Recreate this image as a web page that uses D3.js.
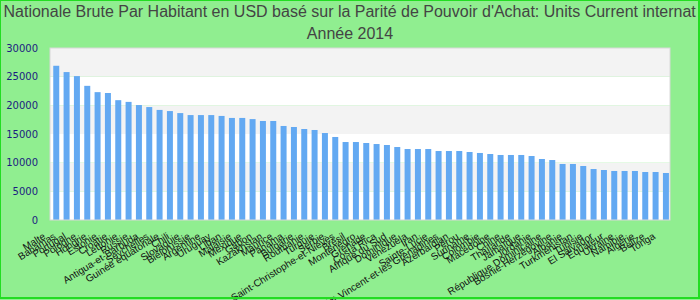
<!DOCTYPE html>
<html>
<head>
<meta charset="utf-8">
<script src="https://cdn.jsdelivr.net/npm/d3@7"></script>
<style>
  html, body { margin: 0; padding: 0; background: #90EE90; }
  svg { display: block; }
</style>
</head>
<body>
<svg id="chart" width="700" height="300"></svg>
<script>
const titleLine1 = "Nationale Brute Par Habitant en USD basé sur la Parité de Pouvoir d'Achat: Units Current internat";
const titleLine2 = "Année 2014";

const categories = [
  "Malte", "Bahamas", "Portugal", "Pologne", "Hongrie", "Estonie", "Croatie", "Lettonie",
  "Russie", "Antigua-et-Barbuda", "Seychelles", "Guinée équatoriale", "Chili", "Slovaquie",
  "Biélorussie", "Argentine", "Uruguay", "Liban", "Malaisie", "Mexique", "Gabon", "Kazakhstan",
  "Maurice", "Panama", "Bulgarie", "Roumanie", "Turquie", "Serbie",
  "Saint-Christophe-et-Niévès", "Brésil", "Monténégro", "Grenade", "Costa Rica", "Afrique du Sud",
  "Dominique", "Venezuela", "Iran", "Sainte-Lucie", "Saint-Vincent-et-les Grenadines", "Azerbaïdjan",
  "Pérou", "Suriname", "Colombie", "Macédoine", "Chine", "Thaïlande", "Jamaïque", "Jordanie",
  "République Dominicaine", "Bosnie-Herzégovine", "Albanie", "Turkménistan", "Tunisie",
  "El Salvador", "Équateur", "Ukraine", "Namibie", "Algérie", "Belize", "Tonga"
];

const values = [
  26900, 25800, 25100, 23400, 22300, 22150, 20900, 20600,
  20050, 19700, 19200, 19000, 18650, 18300,
  18300, 18300, 18150, 17800, 17800, 17600, 17270, 17270,
  16400, 16220, 15870, 15700, 15170, 14480,
  13600, 13600, 13430, 13250, 13080, 12730, 12380,
  12380, 12380, 12030, 12030, 12030,
  11860, 11690, 11510, 11340, 11340, 11340, 11160,
  10640, 10460, 9770, 9770, 9420,
  8890, 8720, 8550, 8550, 8550, 8370, 8370, 8200
];

const yTicks = [0, 5000, 10000, 15000, 20000, 25000, 30000];

const W = 700, H = 300;
const plot = { left: 50, right: 670, top: 48, bottom: 220 };

const svg = d3.select("#chart");

svg.append("rect").attr("x", 0).attr("y", 0).attr("width", W).attr("height", H)
  .attr("fill", "#90EE90");

// Title
svg.append("text").attr("x", 3.5).attr("y", 17)
  .attr("font-family", "'Liberation Sans', Arial, sans-serif").attr("font-size", 16)
  .attr("fill", "#444").attr("text-anchor", "start").text(titleLine1);
svg.append("text").attr("x", W / 2).attr("y", 39)
  .attr("font-family", "'Liberation Sans', Arial, sans-serif").attr("font-size", 16)
  .attr("fill", "#444").attr("text-anchor", "middle").text(titleLine2);

const x = d3.scaleBand().domain(categories).range([plot.left, plot.right])
  .paddingInner(0.42).paddingOuter(0.21).align(0.75);
const y = d3.scaleLinear().domain([0, 30000]).range([plot.bottom, plot.top]);

// Alternating bands
const bands = d3.range(yTicks.length - 1);
svg.append("g").selectAll("rect").data(bands).join("rect")
  .attr("x", plot.left).attr("width", plot.right - plot.left)
  .attr("y", i => y(yTicks[i + 1])).attr("height", i => y(yTicks[i]) - y(yTicks[i + 1]))
  .attr("fill", i => i % 2 === 0 ? "#ffffff" : "#f3f3f3");

// Bars
svg.append("g").selectAll("rect").data(categories).join("rect")
  .attr("x", d => x(d)).attr("width", x.bandwidth())
  .attr("y", (d, i) => y(values[i])).attr("height", (d, i) => y(0) - y(values[i]))
  .attr("fill", "#63a9f2");

// Plot border
svg.append("rect").attr("x", plot.left).attr("y", plot.top)
  .attr("width", plot.right - plot.left).attr("height", plot.bottom - plot.top)
  .attr("fill", "none").attr("stroke", "#d8d8d8").attr("stroke-width", 1);

// Y axis labels
const yAxis = d3.axisLeft(y).tickValues(yTicks).tickSize(0).tickPadding(12).tickFormat(d3.format("d"));
const gy = svg.append("g").attr("transform", `translate(${plot.left},0)`).call(yAxis);
gy.select(".domain").remove();
gy.selectAll("text").attr("font-family", "'DejaVu Sans', sans-serif").attr("font-size", 10)
  .attr("fill", "#1c1c80");

// X axis labels
const xAxis = d3.axisBottom(x).tickSize(0).tickPadding(0);
const gx = svg.append("g").attr("transform", `translate(0,${plot.bottom})`).call(xAxis);
gx.select(".domain").remove();
gx.selectAll("text")
  .attr("font-family", "'Liberation Sans', Arial, sans-serif").attr("font-size", 10)
  .attr("fill", "#111")
  .attr("text-anchor", "end")
  .attr("dy", 0)
  .attr("transform", "translate(-10,18) rotate(-32)");

// Outer border
svg.append("rect").attr("x", 0).attr("y", 0).attr("width", W - 1).attr("height", H - 2)
  .attr("fill", "none").attr("stroke", "#22dd22").attr("stroke-width", 2);
</script>
</body>
</html>
